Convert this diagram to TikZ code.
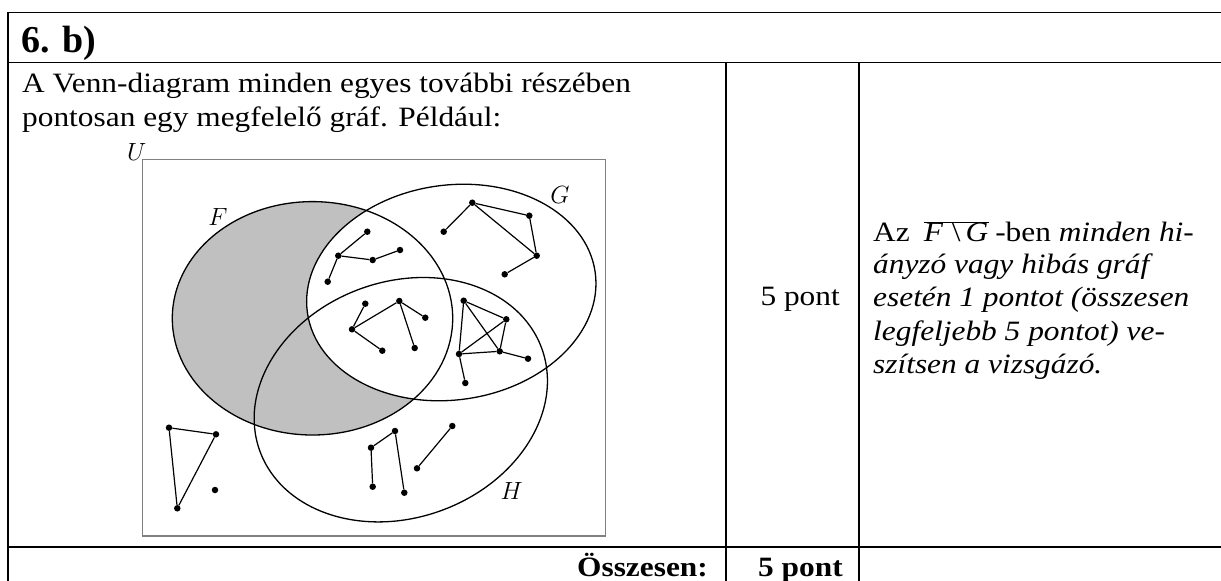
\documentclass[tikz,border=0pt]{standalone}
\usepackage{fontspec}
\setmainfont[FakeStretch=1.12]{Liberation Serif}
\newfontfamily\titlefont{Liberation Serif}
\definecolor{shadegray}{HTML}{C0C0C0}
\definecolor{boxgray}{HTML}{808080}
\tikzset{
  tline/.style={line width=1.6pt, line cap=rect},
  vset/.style={line width=1.3pt},
  vdot/.style={circle, fill=black, inner sep=0pt, minimum size=6.5pt},
  vedge/.style={line width=1.2pt},
  txt/.style={inner sep=0pt, anchor=base west, font=\fontsize{28}{32}\selectfont},
  setlbl/.style={inner sep=0pt, font=\fontsize{26}{28}\selectfont},
}
\begin{document}
\begin{tikzpicture}[x=1pt,y=-1pt]
\useasboundingbox (0,0) rectangle (1221,581);
% table
\draw[tline] (8,12.3) -- (1221,12.3);
\draw[tline] (8,12.3) -- (8,581);
\draw[tline] (8,62.5) -- (1221,62.5);
\draw[tline] (8,546.7) -- (1221,546.7);
\draw[tline] (725.7,62.5) -- (725.7,581);
\draw[tline] (859,62.5) -- (859,581);
% texts
\node[txt, font=\fontsize{38}{40}\titlefont\bfseries] (title) at (21,52) {6. b)};
\node[txt] (l1) at (22,92) {A Venn-diagram minden egyes további részében};
\node[txt] (l2) at (22,126) {pontosan egy megfelelő gráf. Például:};
\node[txt, anchor=base east] (pts) at (840,305) {5 pont};
\node[txt] (r1) at (873,241.7) {Az\kern 14pt$\overline{\hbox{\itshape F\kern 9pt\upshape\textbackslash\kern 5pt\itshape G\kern 1pt}}$\kern 6pt-ben \itshape minden hi-};
\node[txt] (r2) at (873,273.3) {\itshape ányzó vagy hibás gráf};
\node[txt] (r3) at (873,306.7) {\itshape esetén 1 pontot (összesen};
\node[txt] (r4) at (873,340) {\itshape legfeljebb 5 pontot) ve-};
\node[txt] (r5) at (873,373.3) {\itshape szítsen a vizsgázó.};
\node[txt, anchor=base east] (sum) at (708,576) {\bfseries Összesen:};
\node[txt] (sumpts) at (758,576) {\bfseries 5 pont};
% Venn diagram
\draw[boxgray, line width=1.1pt] (142.7,159.3) rectangle (605.7,536);
\node[setlbl, anchor=base west] (U) at (127,160) {$U$};
\fill[shadegray] (312.5,318.3) ellipse [x radius=140.2, y radius=116.7];
\fill[white, rotate around={8:(451.3,292.5)}] (451.3,292.5) ellipse [x radius=145.3, y radius=107.4];
\draw[vset] (312.5,318.3) ellipse [x radius=140.2, y radius=116.7];
\draw[vset, rotate around={8:(451.3,292.5)}] (451.3,292.5) ellipse [x radius=145.3, y radius=107.4];
\draw[vset, rotate around={20:(400.8,399.7)}] (400.8,399.7) ellipse [x radius=150, y radius=118];
\node[setlbl] (F) at (218,217) {$F$};
\node[setlbl] (G) at (560,195) {$G$};
\node[setlbl] (H) at (511.7,491) {$H$};
% graph in F and G only
\node[vdot] (a1) at (367.3,231.7) {};
\node[vdot] (a2) at (338.3,255.7) {};
\node[vdot] (a3) at (372.7,260) {};
\node[vdot] (a4) at (400,250) {};
\node[vdot] (a5) at (327.7,281.7) {};
\draw[vedge] (a1) -- (a2) -- (a3) -- (a4) (a2) -- (a5);
% graph in G only
\node[vdot] (b1) at (472.3,202.7) {};
\node[vdot] (b2) at (443.7,231.7) {};
\node[vdot] (b3) at (529.3,215.7) {};
\node[vdot] (b4) at (536.7,255.7) {};
\node[vdot] (b5) at (504.7,274.3) {};
\draw[vedge] (b2) -- (b1) -- (b3) -- (b4) -- (b5) (b1) -- (b4);
% graph in F, G and H
\node[vdot] (c1) at (365.3,303.7) {};
\node[vdot] (c2) at (399.3,301) {};
\node[vdot] (c3) at (425.3,317.7) {};
\node[vdot] (c4) at (352,329.3) {};
\node[vdot] (c5) at (382.3,350.7) {};
\node[vdot] (c6) at (414.7,348) {};
\draw[vedge] (c1) -- (c4) -- (c2) -- (c3) (c2) -- (c6) (c4) -- (c5);
% graph in G and H only
\node[vdot] (d1) at (463.7,300.7) {};
\node[vdot] (d2) at (506.3,319.3) {};
\node[vdot] (d3) at (459,354) {};
\node[vdot] (d4) at (499.7,351.3) {};
\node[vdot] (d5) at (528,358.7) {};
\node[vdot] (d6) at (465.3,383) {};
\draw[vedge] (d1) -- (d2) -- (d3) -- (d1) -- (d4) -- (d2) (d3) -- (d4) -- (d5) (d3) -- (d6);
% graphs in H only
\node[vdot] (e1) at (395,431) {};
\node[vdot] (e2) at (371,447.7) {};
\node[vdot] (e3) at (372.7,486.7) {};
\node[vdot] (e4) at (404.3,492.7) {};
\draw[vedge] (e3) -- (e2) -- (e1) -- (e4);
\node[vdot] (f1) at (452.3,426) {};
\node[vdot] (f2) at (417,468.3) {};
\draw[vedge] (f1) -- (f2);
% graphs outside
\node[vdot] (g1) at (169,427.7) {};
\node[vdot] (g2) at (216,434.3) {};
\node[vdot] (g3) at (177.3,508.3) {};
\draw[vedge] (g1) -- (g2) -- (g3) -- (g1);
\node[vdot] (h1) at (215,490) {};
\end{tikzpicture}
\end{document}
